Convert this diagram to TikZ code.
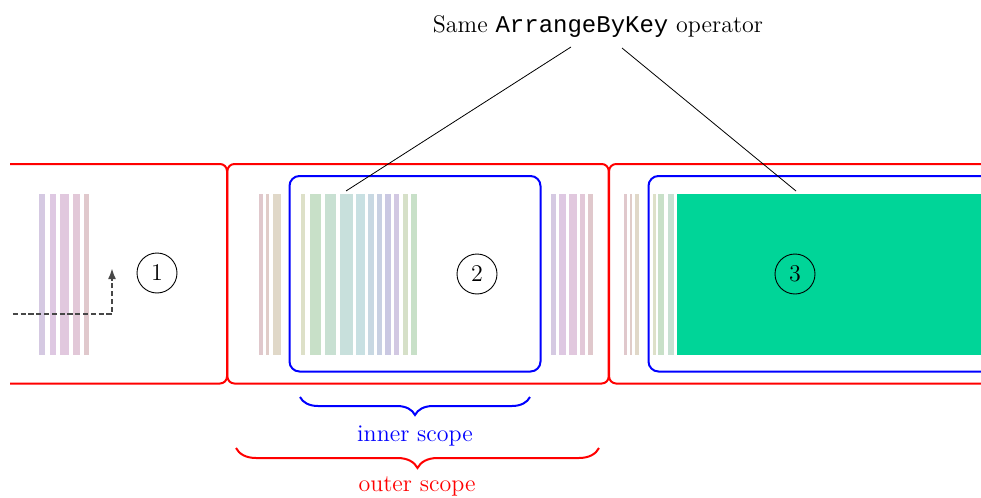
\documentclass[tikz,border=0pt]{standalone}
\usepackage{fontspec}
\setmonofont{Liberation Mono}
\usetikzlibrary{decorations.pathreplacing,arrows.meta}
\definecolor{opgreen}{HTML}{00D598}
\definecolor{bA}{HTML}{D5C9E2}
\definecolor{bB}{HTML}{DEC8E2}
\definecolor{bC}{HTML}{E1C8DE}
\definecolor{bD}{HTML}{E2C8D8}
\definecolor{bE}{HTML}{E0C8CC}
\definecolor{bF}{HTML}{E0CCC8}
\definecolor{bG}{HTML}{E0D8C8}
\definecolor{bH}{HTML}{DDE0C8}
\definecolor{bI}{HTML}{C8E0C8}
\definecolor{bJ}{HTML}{C8E0D2}
\definecolor{bK}{HTML}{C8E0DC}
\definecolor{bL}{HTML}{C8E0E2}
\definecolor{bM}{HTML}{C8D8E2}
\definecolor{bN}{HTML}{C8D0E2}
\definecolor{bO}{HTML}{CAC8E2}
\definecolor{bP}{HTML}{D2C8E2}
\definecolor{bQ}{HTML}{D6E0C8}
\newcommand\drawbar[3]{\fill[#3] (#1,194) rectangle (#2,355);}
\begin{document}
\begin{tikzpicture}[x=0.5pt,y=-0.5pt,
  outerbox/.style={draw=red, line width=1pt, rounded corners=3.5pt},
  innerbox/.style={draw=blue, line width=1pt, rounded corners=5pt},
  num/.style={circle, draw, line width=0.45pt, minimum size=20pt, inner sep=0pt, font=\fontsize{12}{14}\selectfont},
  lbl/.style={font=\fontsize{12}{14}\selectfont, inner sep=0pt},
  ptr/.style={draw=black, line width=0.4pt},
  flow/.style={draw=black!72, line width=1.1pt, dash pattern=on 2.6pt off 1.3pt, -{Latex[length=5.5pt,width=4pt]}},
  bracedeco/.style={decorate, line width=1pt, decoration={brace, mirror, amplitude=#1}}]
\useasboundingbox (0,0) rectangle (981,498);
\begin{scope}
\clip (10,0) rectangle (981,498);
% box 1
\drawbar{39}{45}{bA}\drawbar{50}{56}{bB}\drawbar{60}{69}{bC}\drawbar{73}{80}{bD}\drawbar{84}{89}{bE}
\draw[outerbox] (-30,164) rectangle (227,383.5);
% box 2
\drawbar{259}{263}{bE}\drawbar{266}{269}{bF}\drawbar{273}{281}{bG}
\drawbar{301}{305}{bH}\drawbar{310}{321}{bI}\drawbar{325}{336}{bJ}\drawbar{340}{353}{bK}
\drawbar{356}{365}{bL}\drawbar{368}{374}{bM}\drawbar{377}{382}{bN}\drawbar{385}{391}{bO}
\drawbar{394}{399}{bP}\drawbar{403}{408}{bQ}\drawbar{411}{417}{bI}
\drawbar{551}{556}{bA}\drawbar{559}{566}{bB}\drawbar{569}{577}{bC}\drawbar{580}{585}{bD}\drawbar{588}{593}{bE}
\draw[outerbox] (227.4,164) rectangle (608.7,383.5);
\draw[innerbox] (289.5,176) rectangle (540.5,371.5);
% box 3
\drawbar{624}{627}{bE}\drawbar{630}{632}{bF}\drawbar{635}{639}{bG}
\drawbar{653}{656}{bH}\drawbar{658}{664}{bI}\drawbar{668}{674}{bJ}
\fill[opgreen] (677,194) rectangle (1000,355);
\draw[outerbox] (609.1,164) rectangle (1030,383.5);
\draw[innerbox] (648.5,176) rectangle (1030,371.5);
% dashed flow
\coordinate (fs) at (5,314);
\coordinate (fe) at (112,268);
\draw[flow] (fs) -| (fe);
\end{scope}
% circled numbers
\node[num] (c1) at (157,273) {1};
\node[num] (c2) at (477,274) {2};
\node[num] (c3) at (795,274) {3};
% title and pointers
\node[lbl] (title) at (598,27) {Same \texttt{ArrangeByKey} operator};
\coordinate (t1) at (571,47);
\coordinate (t2) at (622,48);
\coordinate (op2) at (346,191);
\coordinate (op3) at (796,191);
\draw[ptr] (t1) -- (op2);
\draw[ptr] (t2) -- (op3);
% braces
\coordinate (ibl) at (300,397);
\coordinate (ibr) at (530,397);
\coordinate (obl) at (236,448);
\coordinate (obr) at (599,448);
\draw[bracedeco=9pt, blue] (ibl) -- (ibr);
\draw[bracedeco=10pt, red] (obl) -- (obr);
\node[lbl, text=blue] (inner) at (415,436) {inner scope};
\node[lbl, text=red] (outer) at (417,486) {outer scope};
\end{tikzpicture}
\end{document}
